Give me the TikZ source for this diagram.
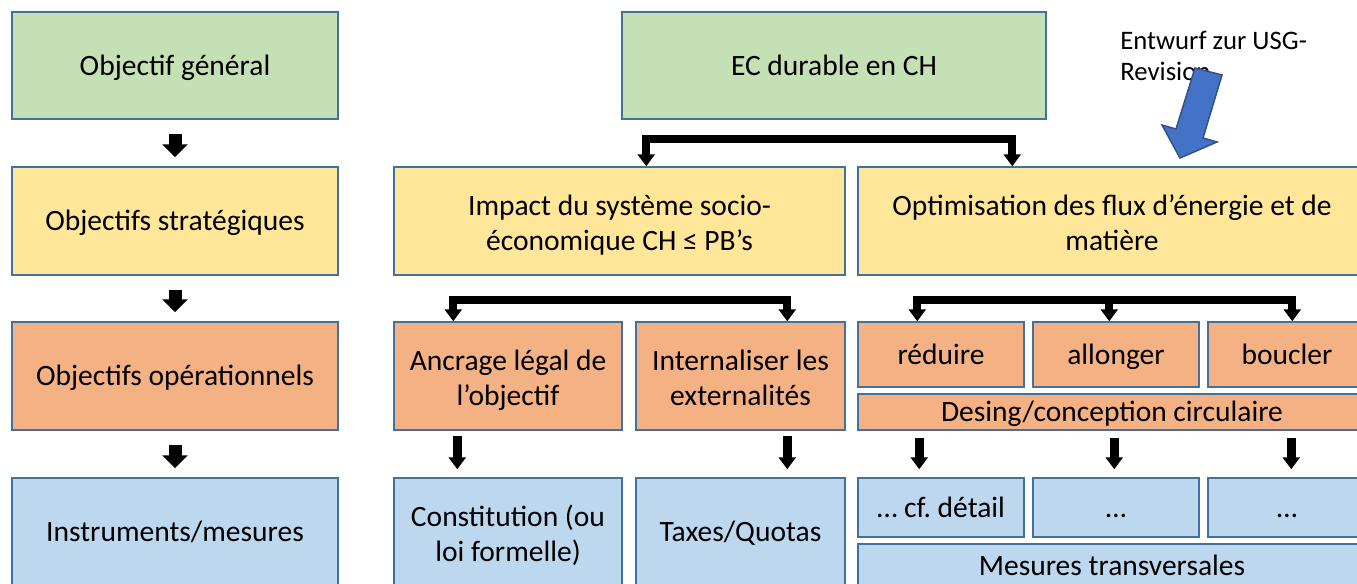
\documentclass[tikz,border=0pt]{standalone}
\usepackage{fontspec}
\setmainfont{Carlito}
\usepackage{xcolor}
\usetikzlibrary{calc}
\usetikzlibrary{positioning,arrows.meta}
\definecolor{boxline}{HTML}{41719C}
\definecolor{genfill}{HTML}{C5E0B4}
\definecolor{stratfill}{HTML}{FFE699}
\definecolor{operfill}{HTML}{F4B183}
\definecolor{instrfill}{HTML}{BDD7EE}
\definecolor{usgfill}{HTML}{4472C4}
\definecolor{usgline}{HTML}{2F528F}
\tikzset{
  box/.style args={#1/#2}{draw=boxline, line width=0.85pt, align=center, inner sep=0pt,
    minimum width=#1*0.02cm, minimum height=#2*0.02cm,
    text height=15pt, text depth=3.8pt,
    font=\fontsize{16.8}{19.8}\selectfont},
  twolines/.style={text height=37.4pt, text depth=3.8pt},
  bartip/.tip={Triangle[width=9.6pt,length=6.8pt]},
  bigtip/.tip={Triangle[width=14.2pt,length=7.4pt]},
  bar/.style={line width=4.5pt, line join=miter, bartip-bartip},
  drop/.style={line width=4.5pt, -bartip},
  bigdown/.style={line width=7.4pt, -bigtip},
  down/.style={line width=5.1pt, -bartip},
}

\begin{document}
\begin{tikzpicture}[x=0.02cm,y=-0.02cm]
\clip (0,0) rectangle (1357,583);
% left column: levels
\node[box=326/107,fill=genfill] (gen) at (175,65.5) {Objectif général};
\node[box=326/108,fill=stratfill] (strat) at (175,221) {Objectifs stratégiques};
\node[box=326/108,fill=operfill] (oper) at (175,376) {Objectifs opérationnels};
\node[box=326/108,fill=instrfill] (instr) at (175,532) {Instruments/mesures};
\foreach \a/\b in {gen/strat,strat/oper,oper/instr}
  \draw[bigdown] ($(\a.south)+(0,14)$) -- ($(\b.north)+(0,-9)$);

% goal
\node[box=424/107,fill=genfill] (ec) at (834,65.5) {EC durable en CH};

% strategic goals
\node[box=451/108,fill=stratfill,twolines] (impact) at (619.5,221)
  {Impact du système socio-\\économique CH ≤ PB’s};
\node[box=508/108,fill=stratfill,twolines] (optim) at (1112,221)
  {Optimisation des flux d’énergie et de\\matière};
\draw[bar] ($(impact.north west)+(253,0)$) -- ++(0,-27) -| ($(optim.north west)+(155,0)$);

% operational goals
\node[box=228/108,fill=operfill,twolines] (ancrage) at (508,376) {Ancrage légal de\\l’objectif};
\node[box=209/108,fill=operfill,twolines] (intern) at (740.5,376) {Internaliser les\\externalités};
\node[box=166/65,fill=operfill] (reduire) at (941,354.5) {réduire};
\node[box=166/65,fill=operfill] (allonger) at (1116,354.5) {allonger};
\node[box=158/65,fill=operfill] (boucler) at (1287,354.5) {boucler};
\node[box=508/36,fill=operfill] (design) at (1112,412) {Desing/conception circulaire};
\draw[bar] ($(ancrage.north west)+(60,0)$) -- ++(0,-21) -| ($(intern.north west)+(152,0)$);
\draw[bar] ($(reduire.north west)+(60,0)$) -- ++(0,-21) -| ($(boucler.north west)+(85,0)$);
\draw[drop] ($(allonger.north west)+(77,-21)$) -- ($(allonger.north west)+(77,0)$);

% instruments
\node[box=228/108,fill=instrfill,twolines] (constit) at (508,532) {Constitution (ou\\loi formelle)};
\node[box=209/108,fill=instrfill] (taxes) at (740.5,532) {Taxes/Quotas};
\node[box=166/59,fill=instrfill] (detail) at (941,507.5) {… cf.\ détail};
\node[box=166/59,fill=instrfill] (dots1) at (1116,507.5) {…};
\node[box=158/59,fill=instrfill] (dots2) at (1287,507.5) {…};
\node[box=508/44,fill=instrfill] (transv) at (1112,566) {Mesures transversales};
\draw[down] ($(ancrage.south west)+(64,5)$) -- ($(constit.north west)+(64,-8)$);
\draw[down] ($(intern.south west)+(152,5)$) -- ($(taxes.north west)+(152,-8)$);
\draw[down] ($(design.south west)+(62,7)$) -- ($(detail.north west)+(62,-8)$);
\draw[down] ($(design.south west)+(257,7)$) -- ($(dots1.north west)+(82,-8)$);
\draw[down] ($(design.south west)+(434,7)$) -- ($(dots2.north west)+(84,-8)$);

% revision note
\node[anchor=west, align=left, inner sep=0pt, font=\fontsize{15.2}{17.6}\selectfont] (usg)
  at (1120,56) {Entwurf zur USG-\\Revision};
\draw[fill=usgfill, draw=usgline, line width=0.85pt, line join=miter]
  (1195,68) -- (1222,75) -- (1203,138) -- (1217,142) -- (1180,158)
  -- (1162,125) -- (1176,129) -- cycle;
\end{tikzpicture}
\end{document}
